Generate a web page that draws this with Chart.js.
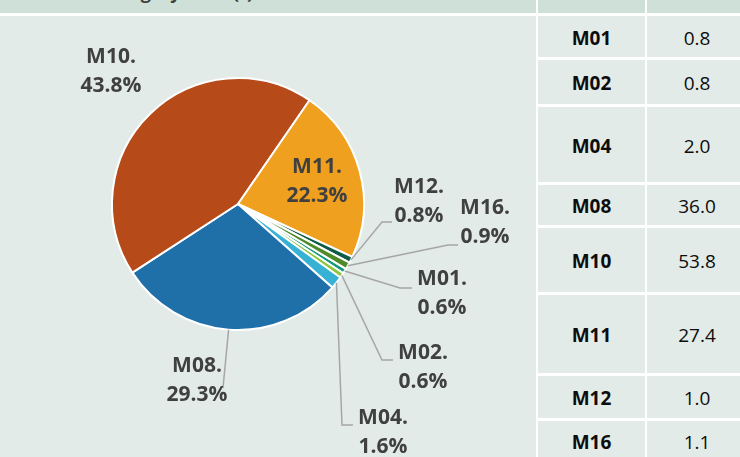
<!DOCTYPE html>
<html>
<head>
<meta charset="utf-8">
<script src="https://cdn.jsdelivr.net/npm/chart.js@4/dist/chart.umd.min.js"></script>
<style>
  html, body { margin: 0; padding: 0; }
  body { width: 740px; height: 457px; overflow: hidden; position: relative; background: #fff; font-family: "Open Sans", sans-serif; }
  .cell { position: absolute; overflow: hidden; }
  .hdr { background: #cfe0d8; }
  .body { background: #e2ebe7; }
  .title { position: absolute; left: 100px; top: -17px; font-size: 18px; line-height: 18px; font-weight: 700; color: #404040; white-space: nowrap; }
  .tcell { display: flex; align-items: center; justify-content: center; font-size: 19px; color: #0d0d0d; padding-top: 2px; box-sizing: border-box; }
  .tcell.name { font-weight: 700; }
  #pieBox { position: absolute; left: 0; top: 16px; width: 536px; height: 441px; }
</style>
</head>
<body>
<div class="cell hdr" style="left:0;top:0;width:536px;height:13px;"><div class="title">Category total (t)</div></div>
<div class="cell hdr" style="left:538px;top:0;width:107px;height:13px;"></div>
<div class="cell hdr" style="left:647px;top:0;width:100px;height:13px;"></div>
<div class="cell body" style="left:0;top:16px;width:536px;height:441px;"></div>
<div id="pieBox"><canvas id="pie" width="536" height="441"></canvas></div>
<div id="table"></div>

<script>
// data
const categories = ["M01", "M02", "M04", "M08", "M10", "M11", "M12", "M16"];
const tonnes = [0.8, 0.8, 2.0, 36.0, 53.8, 27.4, 1.0, 1.1];
const shareLabels = ["0.6%", "0.6%", "1.6%", "29.3%", "43.8%", "22.3%", "0.8%", "0.9%"];

const sliceColors = ["#17997f", "#8cc63f", "#37b1d4", "#1f6fa9", "#b64a18", "#f0a01f", "#0f5c47", "#4e8a27"];

// table rows (heights in px, 3px white gap between)
const rowHeights = [41, 44, 75, 40, 64, 78, 42, 40];

const table = document.getElementById("table");
let rowTop = 16;
categories.forEach((cat, i) => {
  const h = rowHeights[i];
  const a = document.createElement("div");
  a.className = "cell body tcell name";
  a.style.cssText = `left:538px;top:${rowTop}px;width:107px;height:${h}px;`;
  a.textContent = cat;
  const b = document.createElement("div");
  b.className = "cell body tcell";
  b.style.cssText = `left:647px;top:${rowTop}px;width:100px;height:${h}px;`;
  b.textContent = tonnes[i].toFixed(1);
  table.appendChild(a);
  table.appendChild(b);
  rowTop += h + 3;
});

// label layout in canvas px: text centre of first line, optional leader elbow + end
const labelLayout = [
  { x: 442, y: 263, elbow: [400, 272], end: [412, 272] },
  { x: 423, y: 337, elbow: [382, 344], end: [393, 344] },
  { x: 383, y: 402, elbow: [342, 409], end: [353, 409] },
  { x: 197, y: 350, elbow: [223, 372], end: null },
  { x: 111, y: 41 },
  { x: 317, y: 151 },
  { x: 419, y: 171, elbow: [382, 206], end: [392, 206] },
  { x: 485, y: 192, elbow: [448, 229], end: [458, 229] }
];

const pieLabels = {
  id: "pieLabels",
  afterDatasetsDraw(chart) {
    const ctx = chart.ctx;
    const arcs = chart.getDatasetMeta(0).data;
    ctx.save();
    arcs.forEach((arc, i) => {
      const L = labelLayout[i];
      if (L.elbow) {
        const p = arc.getProps(["x", "y", "startAngle", "endAngle", "outerRadius"], true);
        const mid = (p.startAngle + p.endAngle) / 2;
        const sx = p.x + Math.cos(mid) * p.outerRadius;
        const sy = p.y + Math.sin(mid) * p.outerRadius;
        ctx.beginPath();
        ctx.strokeStyle = "#a6a6a6";
        ctx.lineWidth = 1.5;
        ctx.moveTo(sx, sy);
        ctx.lineTo(L.elbow[0], L.elbow[1]);
        if (L.end) ctx.lineTo(L.end[0], L.end[1]);
        ctx.stroke();
      }
      ctx.fillStyle = "#404040";
      ctx.font = "bold 21px 'Open Sans'";
      ctx.textAlign = "center";
      ctx.textBaseline = "middle";
      ctx.fillText(categories[i] + ".", L.x, L.y);
      ctx.fillText(shareLabels[i], L.x, L.y + 29);
    });
    ctx.restore();
  }
};

new Chart(document.getElementById("pie"), {
  type: "pie",
  data: {
    labels: categories,
    datasets: [{
      data: tonnes,
      backgroundColor: sliceColors,
      borderColor: "#ffffff",
      borderWidth: 2
    }]
  },
  options: {
    responsive: false,
    animation: false,
    rotation: 121,
    layout: { padding: { left: 111, right: 171, top: 61, bottom: 126 } },
    plugins: {
      legend: { display: false },
      tooltip: { enabled: false }
    }
  },
  plugins: [pieLabels]
});
</script>
</body>
</html>
